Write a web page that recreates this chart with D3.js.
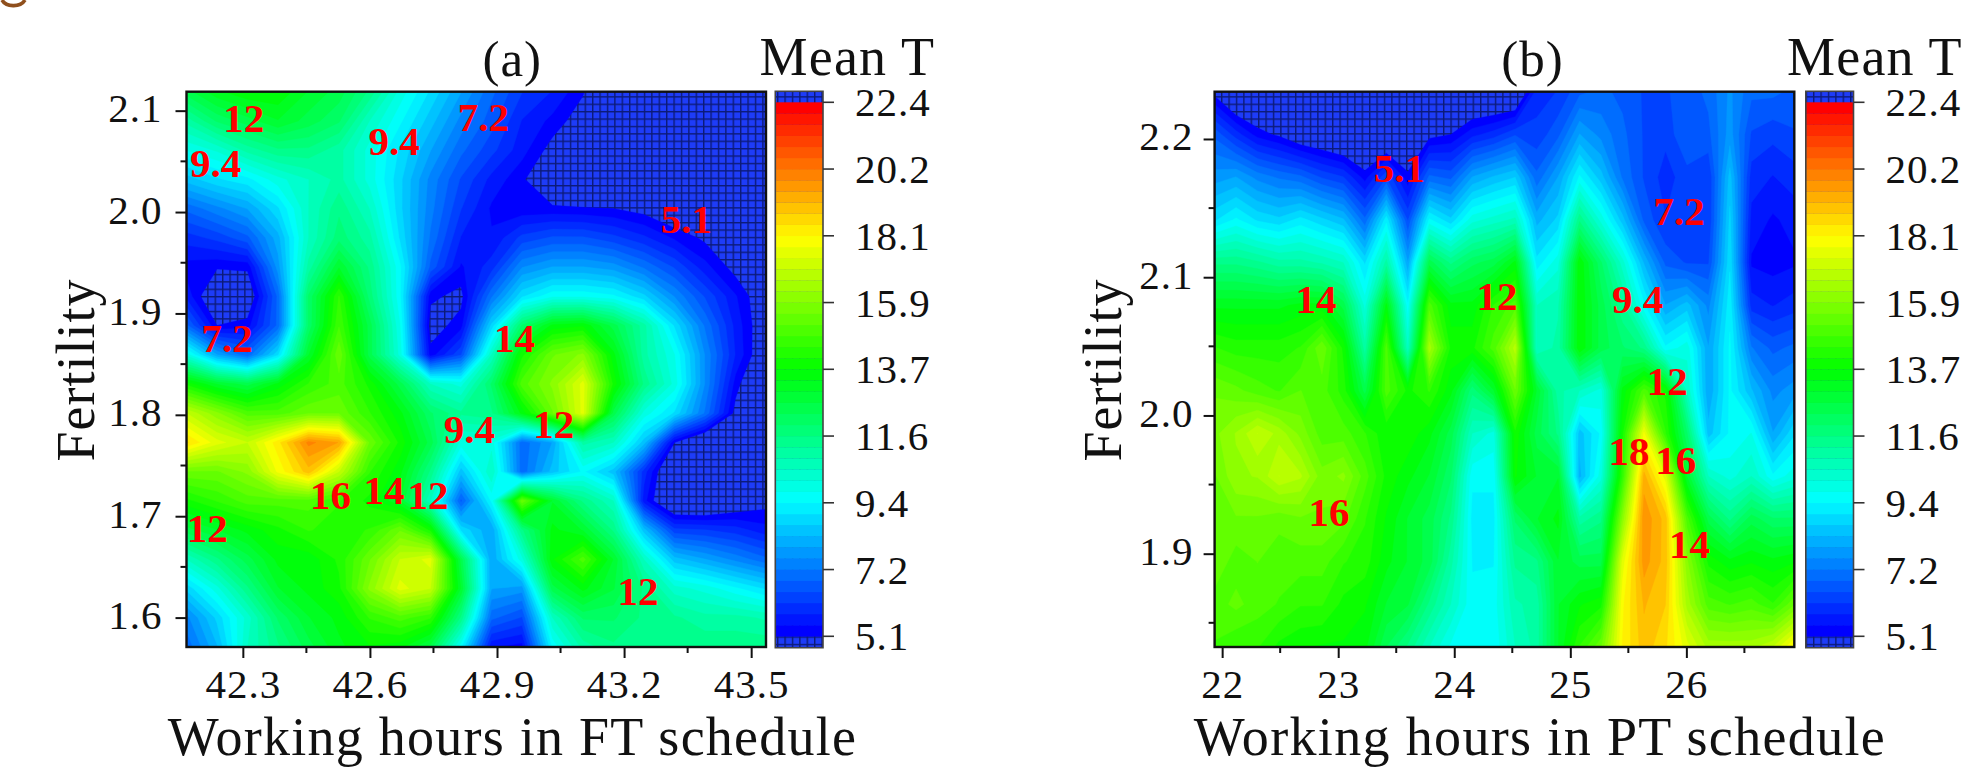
<!DOCTYPE html>
<html><head><meta charset="utf-8">
<script src="https://cdnjs.cloudflare.com/ajax/libs/d3/7.8.5/d3.min.js"></script>
<style>html,body{margin:0;padding:0;background:#fff;overflow:hidden}svg{display:block}text{font-family:"Liberation Serif",serif;fill:#111}</style>
</head><body><svg id="c" width="1987" height="773"></svg>
<script>
// Mean T estimated on a regular grid (rows run top to bottom). Values below 5.1 fall in the hatched class.
const meanA = [
[12.5,13.3,13.7,13.7,13,12.5,11.5,10,9,8,7,6.2,5.8,5.15,4,4,4,4,4,4],
[11,12,12.5,13,12.5,12,10.5,9.5,8.5,7.5,6.7,5.8,5.35,4.8,4,4,4,4,4,4],
[9.8,10.2,11,11.5,11.5,11,10,9,8,7,6.3,5.6,4.9,4,4,4,4,4,4,4],
[8.5,9,9.3,10,10.5,11,10,8.8,7.5,6.5,5.7,5.2,4.3,4,4,4,4,4,4,4],
[7,7.5,8,9,10.5,11.5,10.5,8.8,7.4,6.2,5.4,5.2,5.2,5.15,5.1,4.9,4.5,4,4,4],
[6,6.3,6.8,8.2,10.5,11.8,11,9,7.2,5.8,5.5,6.3,6.6,6.6,6.3,5.9,5.4,5,4,4],
[5.3,5.15,5.2,7.8,11,13,11.5,9.5,6.8,5.4,6,7.6,8,8,7.8,7.2,6.5,5.6,4.9,4],
[5.7,4.4,4.5,7,12,14.5,11.8,9.5,5.2,4.95,7.2,9,9.7,9.7,9.5,8.8,7.6,6.5,5.5,4.6],
[7,5.1,5.3,7,12,14.8,12.5,9.8,4.85,5.3,8.8,12,13.5,13.7,12.5,11,9,7.2,5.7,4.6],
[10,8,7,9,13,15.5,12.5,10,5.25,6.5,10.5,14,15.5,16,13.5,11,9.8,7.6,5.8,4.5],
[14,13,12.5,13.5,14.5,15,14,12.5,10.5,10,12,15,16,17.5,14,11.5,10,7.6,5.3,4],
[17,16,15,15,15.5,15.5,14.5,13.5,12,11.3,11.5,13.5,15.5,17.5,12.5,10,9,7.2,4.9,4],
[18.5,17.5,17,18.3,20,19.5,15.5,14,12.5,10,10,7,8,11,10.5,8.5,5.1,4,4,4],
[15.5,15.5,16,17.8,19,17,14.5,13.5,11.5,8.5,10.5,7,8.5,9.5,8.5,6,4,4,4,4],
[14,14.5,15,15,15,14.5,14,13,10.5,6.8,9.5,15.5,13,11.5,10.5,5.6,4,4,4.5,4.9],
[12.5,13,13.5,14,14.5,14.3,14.5,15.5,14,9,8,11.5,13.5,13,11.5,8.5,6.3,6.2,6,5.6],
[10.5,11.5,12.5,13.5,13.5,14.2,15.5,17,17.5,12.5,8,10,13.7,15,13,10.5,8.5,8,7.5,7],
[8.8,10,11.5,13,13.5,14,16,17.5,17,13,8,7.8,12.5,13.5,12.7,11.5,10.3,10,9.5,9],
[7.5,8.8,10.3,12,13,13.5,14.5,15,14.5,11.5,7,6.5,10.5,12,12,11.5,11.3,11,11,10.8],
[7,8.3,10.5,11.5,12.5,13.3,13.7,13.5,12.5,9.5,5.5,5.3,9.5,11,11.5,11.5,11.5,11.5,11.5,11.5]
];
const meanB = [
[4.9,4,4,4,4,4,4,4,4,4,4,4,4,4,4,6,6.2,6.8,7,6.8,6.5,6.5,6.7,7,7.7,7,7,6.8],
[6.8,6,5.3,5,4.5,4.3,4,4,4,4.4,4.9,5.1,5.7,6,6.5,6.3,6.8,8,7.5,7,6.5,6.3,6.9,6.8,7.8,6.5,6.3,6.5],
[7.8,8,7.5,7.2,7,6.5,6.2,5.3,6.5,5.2,7,6.8,8,8.4,8.7,7,8,9.5,8.5,7.2,6.5,6,6.4,6.2,8.5,6,5.8,6],
[9,9.5,9,8.8,9.2,8.8,8.4,7,9.3,6.5,9.5,8.8,10,10.3,10.6,8.2,8.8,11.5,10,8.5,6.8,6.2,6.3,6.2,8.8,5.7,5.4,5.6],
[11.5,11.5,11.3,11,11,10.8,10.5,9,11,8,12.5,11.5,12.2,12.5,13.5,9.2,10,13.7,12,10.3,8.3,6.8,6.5,6.5,9,5.4,5.3,5.4],
[13.3,13.3,13.3,13.3,13.5,13.5,12.5,10,13.5,9.5,15,13.5,13.5,14.5,15,10.5,10.8,13.7,12.5,11.3,9.5,8,8.5,7.5,9.3,6,5.8,6],
[14.5,14.3,14.3,14.3,14.5,15.5,14,11,15,10.5,16.5,14,14,15,16.8,10.5,11,13.7,12.5,12,11.5,9.5,10,8,9.5,7.3,6.8,7],
[15.5,15.3,15,14.8,15.2,15,14.3,12.5,15,14,14.5,13.5,11.7,13,15.5,13,11,10.5,10,13.5,15,14,10.5,8,9.5,8.4,7.5,7.8],
[15.8,16.3,17,16.5,15.8,15,15,14.5,13.8,14,13.5,12.5,10.5,10,14,12.5,11.5,8.5,9.5,14,17.8,14.5,12,8.5,9.5,9.8,8,9],
[15.5,16.2,16.3,17,16.7,15.7,16,15,14,13.5,13,12,9.5,9.5,13.8,13,13,8.2,10,14.5,19.3,17.5,13,10.5,10,10.5,9.5,10],
[15.5,15.5,15.5,15.3,15.5,15.5,15.3,14.5,13.7,13,12.5,11.5,9.3,9.3,12,13,13.5,11,11.5,16,19.8,19,15,12.5,11.5,12.5,12,12],
[15.5,15,15.2,15,15,15,14.5,14.3,13.5,13,12.5,11,9.4,9.4,11.3,11.5,13,12.5,12.5,17.5,19.7,19,16,14,13.5,13.7,13.5,13.7],
[15,15.3,15,14.8,14.5,14.5,14,13.8,13,12.7,11.5,10.5,9.5,9.6,10.8,11,13,13.7,14,18,19.2,18.8,16.5,15,14.8,15,14.5,15.5],
[14.8,14.5,14.5,14,13.8,13.7,13.7,13.5,12.3,11.5,10.5,9.7,9.5,9.5,10.5,11,13,14.5,15.5,18.1,19,18.5,17.5,16.5,16.5,16.5,17,18.2]
];
const colorbarLabels = ["22.4","20.2","18.1","15.9","13.7","11.6","9.4","7.2","5.1"];
const legendTitle = "Mean T";
const xTicksA = [42.3,42.6,42.9,43.2,43.5];
const yTicksA = [1.6,1.7,1.8,1.9,2.0,2.1];
const xTicksB = [22,23,24,25,26];
const yTicksB = [1.9,2.0,2.1,2.2];
const labelsA = [["12",42.302,2.079],["9.4",42.236,2.035],["9.4",42.657,2.056],["7.2",42.868,2.080],["5.1",43.347,1.979],["7.2",42.263,1.862],["14",42.941,1.862],["9.4",42.835,1.772],["12",43.034,1.777],["16",42.507,1.707],["14",42.633,1.712],["12",42.737,1.707],["12",42.216,1.675],["12",43.233,1.612]];
const labelsB = [["5.1",23.527,2.169],["7.2",25.938,2.138],["14",22.809,2.074],["12",24.369,2.076],["9.4",25.581,2.074],["12",25.836,2.015],["18",25.506,1.964],["16",25.908,1.958],["16",22.921,1.920],["14",26.027,1.897]];

const tMin = 5.1, tMax = 22.4, nLevels = 48;
const thresholds = d3.range(nLevels).map(i => tMin + i*(tMax-tMin)/nLevels);
const rainbow = d3.scaleLinear().domain([0,.25,.5,.75,1]).range(["#0000ff","#00ffff","#00ff00","#ffff00","#ff0000"]);
const levelColor = i => rainbow(i/(nLevels-1));

const svg = d3.select("#c");
const defs = svg.append("defs");
const pat = defs.append("pattern").attr("id","hatch").attr("patternUnits","userSpaceOnUse").attr("width",7.4).attr("height",7.4);
pat.append("rect").attr("width",7.4).attr("height",7.4).attr("fill","#1e3cf8");
pat.append("path").attr("d","M0 .7H7.4M.7 0V7.4").attr("stroke","#0c1a78").attr("stroke-width",1.4).attr("fill","none");

// brown letter fragment cut by the top-left corner
svg.append("path").attr("d","M2 0C6 7 20 8 25 0").attr("fill","none").attr("stroke","#8f4f1d").attr("stroke-width",3.6);

function panel(o){
  const x = d3.scaleLinear().domain(o.xDom).range([o.l,o.r]);
  const y = d3.scaleLinear().domain(o.yDom).range([o.b,o.t]);
  const rows=o.grid.length, cols=o.grid[0].length;
  const gx = d3.scaleLinear().domain([.5,cols-.5]).range(o.xDom);
  const gy = d3.scaleLinear().domain([.5,rows-.5]).range(o.yDom.slice().reverse());
  const path = d3.geoPath(d3.geoTransform({point(a,b){this.stream.point(x(gx(a)),y(gy(b)));}}));
  const id="clip"+o.name;
  defs.append("clipPath").attr("id",id).append("rect").attr("x",o.l).attr("y",o.t).attr("width",o.r-o.l).attr("height",o.b-o.t);
  const g=svg.append("g");
  g.append("rect").attr("x",o.l).attr("y",o.t).attr("width",o.r-o.l).attr("height",o.b-o.t).attr("fill","url(#hatch)");
  const cs=d3.contours().size([cols,rows]).thresholds(thresholds)(o.grid.flat());
  g.append("g").attr("clip-path",`url(#${id})`).selectAll("path").data(cs).join("path")
    .attr("d",path).attr("fill",(d,i)=>levelColor(i)).attr("stroke",(d,i)=>levelColor(i)).attr("stroke-width",.4);
  g.append("rect").attr("x",o.l).attr("y",o.t).attr("width",o.r-o.l).attr("height",o.b-o.t).attr("fill","none").attr("stroke","#111").attr("stroke-width",2.4);

  // axes
  const minorX=[], minorY=[];
  o.xTicks.forEach((v,i)=>{ if(i<o.xTicks.length-1) minorX.push((v+o.xTicks[i+1])/2); });
  o.yTicks.forEach((v,i)=>{ minorY.push(i<o.yTicks.length-1?(v+o.yTicks[i+1])/2:v+(v-o.yTicks[i-1])/2); });
  minorX.push(...o.extraMinorX);
  minorY.push(...o.extraMinorY);
  const ax=d3.axisBottom(x).tickValues(o.xTicks).tickSize(11).tickPadding(0).tickFormat(o.xFmt);
  const ay=d3.axisLeft(y).tickValues(o.yTicks).tickSize(11).tickPadding(0).tickFormat(d3.format(".1f"));
  const gax=svg.append("g").attr("transform",`translate(0,${o.b})`).call(ax);
  const gay=svg.append("g").attr("transform",`translate(${o.l},0)`).call(ay);
  [gax,gay].forEach(s=>{s.select(".domain").remove();s.selectAll("line").attr("stroke","#111").attr("stroke-width",2);s.selectAll("text").attr("font-size",41).attr("letter-spacing",1).attr("fill","#1a1a1a");});
  gax.selectAll("text").attr("y",0).attr("dy",0).attr("transform",`translate(0,${698-o.b})`);
  gay.selectAll("text").attr("x",-o.yLabelGap).attr("dy",11);
  svg.append("g").selectAll("line").data(minorX).join("line").attr("x1",x).attr("x2",x).attr("y1",o.b).attr("y2",o.b+6).attr("stroke","#111").attr("stroke-width",2);
  svg.append("g").selectAll("line").data(minorY.filter(v=>y(v)>o.t&&y(v)<o.b)).join("line").attr("y1",y).attr("y2",y).attr("x1",o.l-6).attr("x2",o.l).attr("stroke","#111").attr("stroke-width",2);

  // titles
  svg.append("text").attr("x",(o.l+o.r)/2+o.titleDx).attr("y",76).attr("text-anchor","middle").attr("font-size",51).attr("letter-spacing",1).text(o.title);
  svg.append("text").attr("x",o.xLabelX).attr("y",755).attr("text-anchor","middle").attr("font-size",54).attr("letter-spacing",o.xSpacing).text(o.xLabel);
  svg.append("text").attr("transform",`translate(${o.yLabelX},370) rotate(-90)`).attr("text-anchor","middle").attr("font-size",54).attr("letter-spacing",1).text("Fertility");

  // contour labels
  svg.append("g").selectAll("text").data(o.labels).join("text").attr("x",d=>x(d[1])).attr("y",d=>y(d[2])).attr("text-anchor","middle")
    .attr("font-size",41).attr("font-weight","bold").style("fill","#ff0000").text(d=>d[0]);

  // colour bar
  const cl=o.cb, cr=o.cb+47.7, ct=91.3, cb=647.7;
  const cy=d3.scaleLinear().domain([tMin,tMax]).range([636.3,102.3]);
  svg.append("rect").attr("x",cl).attr("y",ct).attr("width",cr-cl).attr("height",cb-ct).attr("fill","url(#hatch)");
  svg.append("g").selectAll("rect").data(thresholds).join("rect").attr("x",cl).attr("width",cr-cl)
    .attr("y",d=>cy(d+(tMax-tMin)/nLevels)).attr("height",d=>cy(d)-cy(d+(tMax-tMin)/nLevels)+.3).attr("fill",(d,i)=>levelColor(i));
  svg.append("rect").attr("x",cl).attr("y",ct).attr("width",cr-cl).attr("height",cb-ct).attr("fill","none").attr("stroke","#444").attr("stroke-width",1.6);
  const tickVals=colorbarLabels.map((s,i)=>tMax-i*(tMax-tMin)/(colorbarLabels.length-1));
  const lg=svg.append("g").selectAll("g").data(tickVals).join("g");
  lg.append("line").attr("x1",cr).attr("x2",cr+11).attr("y1",cy).attr("y2",cy).attr("stroke","#333").attr("stroke-width",1.6);
  lg.append("text").attr("x",cr+32).attr("y",d=>cy(d)+14).attr("font-size",41).attr("letter-spacing",1).attr("fill","#1a1a1a").text((d,i)=>colorbarLabels[i]);
  svg.append("text").attr("x",o.meanX).attr("y",75).attr("font-size",54).attr("letter-spacing",1.2).text(legendTitle);
}

panel({name:"a",grid:meanA,l:186.5,r:766,t:91.7,b:647,xDom:[42.167,43.535],yDom:[1.571,2.1187],xTicks:xTicksA,yTicks:yTicksA,
  extraMinorX:[],extraMinorY:[],xFmt:d3.format(".1f"),yLabelGap:24,title:"(a)",titleDx:36,xLabel:"Working hours in FT schedule",xSpacing:1.25,xLabelX:512.5,yLabelX:94,labels:labelsA,cb:775.3,meanX:759.5});
panel({name:"b",grid:meanB,l:1214.6,r:1794.3,t:91.7,b:647,xDom:[21.935,26.93],yDom:[1.8325,2.2342],xTicks:xTicksB,yTicks:yTicksB,
  extraMinorX:[26.5],extraMinorY:[1.85],xFmt:d3.format("d"),yLabelGap:21,title:"(b)",titleDx:28,xLabel:"Working hours in PT schedule",xSpacing:1.35,xLabelX:1540,yLabelX:1121,labels:labelsB,cb:1805.8,meanX:1787});
</script></body></html>
